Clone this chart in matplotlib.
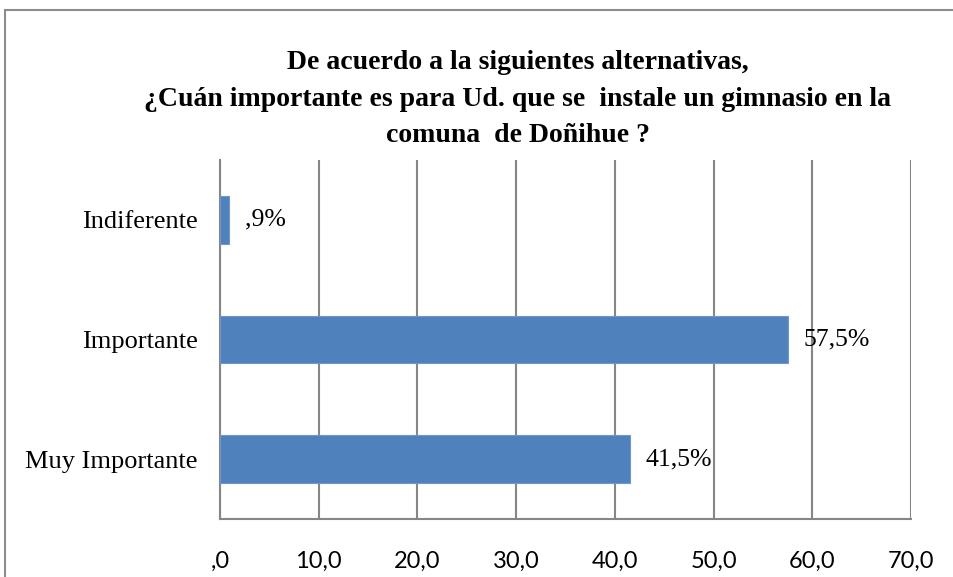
import matplotlib
matplotlib.use('Agg')
import matplotlib.pyplot as plt
from matplotlib.patches import Rectangle
from matplotlib.ticker import FixedLocator, FuncFormatter

# Data
categories = ['Muy Importante', 'Importante', 'Indiferente']
values = [41.5, 57.5, 0.9]
value_labels = ['41,5%', '57,5%', ',9%']
x_ticks = [0, 10, 20, 30, 40, 50, 60, 70]
title = ('De acuerdo a la siguientes alternativas,\n'
         '¿Cuán importante es para Ud. que se  instale un gimnasio en la\n'
         'comuna  de Doñihue ?')

W, H = 954, 577
fig = plt.figure(figsize=(W / 100, H / 100), dpi=100)
fig.patch.set_facecolor('white')

# Outer chart frame (runs off the right/bottom edge like the screenshot)
fig.patches.append(Rectangle((5 / W, -0.1), 1.2, 1 - 10 / H + 0.1,
                             transform=fig.transFigure, fill=False,
                             edgecolor='#8c8c8c', linewidth=1.5))

ax = fig.add_axes([220 / W, 1 - 519 / H, 691 / W, 359 / H])
grid_col = '#868686'

ax.barh(range(len(categories)), values, height=0.4, color='#4F81BD',
        edgecolor='#6f97cc', linewidth=0.8, zorder=3)

for i, (v, lab) in enumerate(zip(values, value_labels)):
    ax.text(v + 1.6, i, lab, va='center', ha='left',
            fontfamily='Liberation Serif', fontsize=18.5, color='black', zorder=4)

ax.set_xlim(0, 70)
ax.set_ylim(-0.5, 2.5)
ax.xaxis.set_major_locator(FixedLocator(x_ticks))
ax.xaxis.set_major_formatter(FuncFormatter(
    lambda x, p: ',0' if x == 0 else f'{x:.1f}'.replace('.', ',')))
ax.set_yticks(range(len(categories)))
ax.set_yticklabels(categories, fontfamily='Liberation Serif', fontsize=19)

ax.grid(axis='x', color=grid_col, linewidth=1.5, zorder=0)
ax.tick_params(axis='both', length=0)
ax.tick_params(axis='x', pad=23, labelsize=17)
ax.tick_params(axis='y', pad=16)
for lbl in ax.get_xticklabels():
    lbl.set_fontfamily('Lato')

for s in ['top', 'right']:
    ax.spines[s].set_visible(False)
for s in ['left', 'bottom']:
    ax.spines[s].set_color(grid_col)
    ax.spines[s].set_linewidth(1.5)

fig.text(518 / W, 1 - 99 / H, title, ha='center', va='center',
         fontfamily='Liberation Serif', fontweight='bold', fontsize=20,
         linespacing=1.58)

fig.savefig('out.png', dpi=100)
